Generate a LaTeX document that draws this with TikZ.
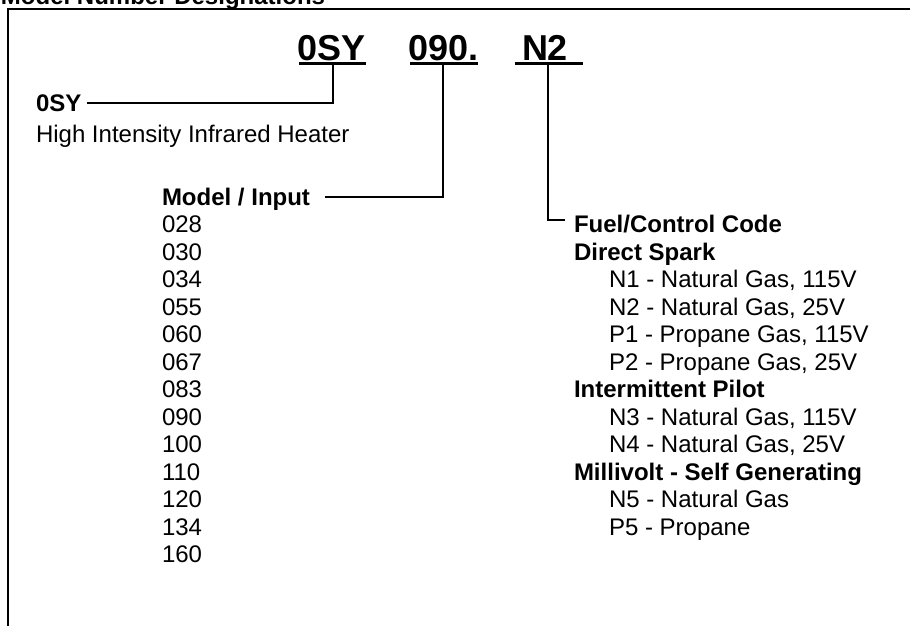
\documentclass[tikz,border=0pt]{standalone}
\usepackage{fontspec}
\setmainfont{Liberation Sans}
\begin{document}
\begin{tikzpicture}[x=1pt,y=-1pt,
  txt/.style={inner sep=0pt, outer sep=0pt, anchor=base west, font=\fontsize{24}{28}\selectfont},
  btxt/.style={inner sep=0pt, outer sep=0pt, anchor=base west, font=\fontsize{24}{28}\selectfont\bfseries},
  big/.style={inner sep=0pt, outer sep=0pt, anchor=base west, font=\fontsize{36}{42}\selectfont\bfseries},
  conn/.style={line width=2pt},
  uline/.style={line width=2.2pt},
  frame/.style={line width=2.6pt}]
\useasboundingbox (0,0) rectangle (910,625);
\clip (0,0) rectangle (910,625);
% header and frame
\node[btxt] (hdr) at (1,4.5) {Model Number Designations};
\draw[frame] (911,9) -- (8,9) -- (8,626);
% big model number
\node[big] (t1) at (297.5,60) {0SY};
\node[big] (t2) at (408.5,60) {090.};
\node[big] (t3) at (522,60) {N2};
\coordinate (u1a) at (299,63.5); \coordinate (u1b) at (366,63.5);
\coordinate (u2a) at (410,63.5); \coordinate (u2b) at (478,63.5);
\coordinate (u3a) at (515,63.5); \coordinate (u3b) at (583,63.5);
\draw[uline] (u1a) -- (u1b);
\draw[uline] (u2a) -- (u2b);
\draw[uline] (u3a) -- (u3b);
% labels
\node[btxt] (l0) at (36,111.5) {0SY};
\node[txt] (l0d) at (36,142) {High Intensity Infrared Heater};
\node[btxt] (mi) at (162,205) {Model / Input};
\foreach \v [count=\i] in {028,030,034,055,060,067,083,090,100,110,120,134,160}
  \node[txt] (m\i) at (162,{205+27.5*\i}) {\v};
% right column
\node[btxt] (fc) at (574,232.5) {Fuel/Control Code};
\node[btxt] (ds) at (574,260) {Direct Spark};
\node[txt] (n1) at (609,287.5) {N1 - Natural Gas, 115V};
\node[txt] (n2) at (609,315) {N2 - Natural Gas, 25V};
\node[txt] (p1) at (609,342.5) {P1 - Propane Gas, 115V};
\node[txt] (p2) at (609,370) {P2 - Propane Gas, 25V};
\node[btxt] (ip) at (574,397.5) {Intermittent Pilot};
\node[txt] (n3) at (609,425) {N3 - Natural Gas, 115V};
\node[txt] (n4) at (609,452.5) {N4 - Natural Gas, 25V};
\node[btxt] (mv) at (574,480) {Millivolt - Self Generating};
\node[txt] (n5) at (609,507.5) {N5 - Natural Gas};
\node[txt] (p5) at (609,535) {P5 - Propane};
% connectors
\coordinate (c1) at (333,63.5); \coordinate (e1) at (87,103);
\coordinate (c2) at (443,63.5); \coordinate (e2) at (325,197);
\coordinate (c3) at (548,63.5); \coordinate (e3) at (565,220);
\draw[conn] (c1) |- (e1);
\draw[conn] (c2) |- (e2);
\draw[conn] (c3) |- (e3);
\end{tikzpicture}
\end{document}
